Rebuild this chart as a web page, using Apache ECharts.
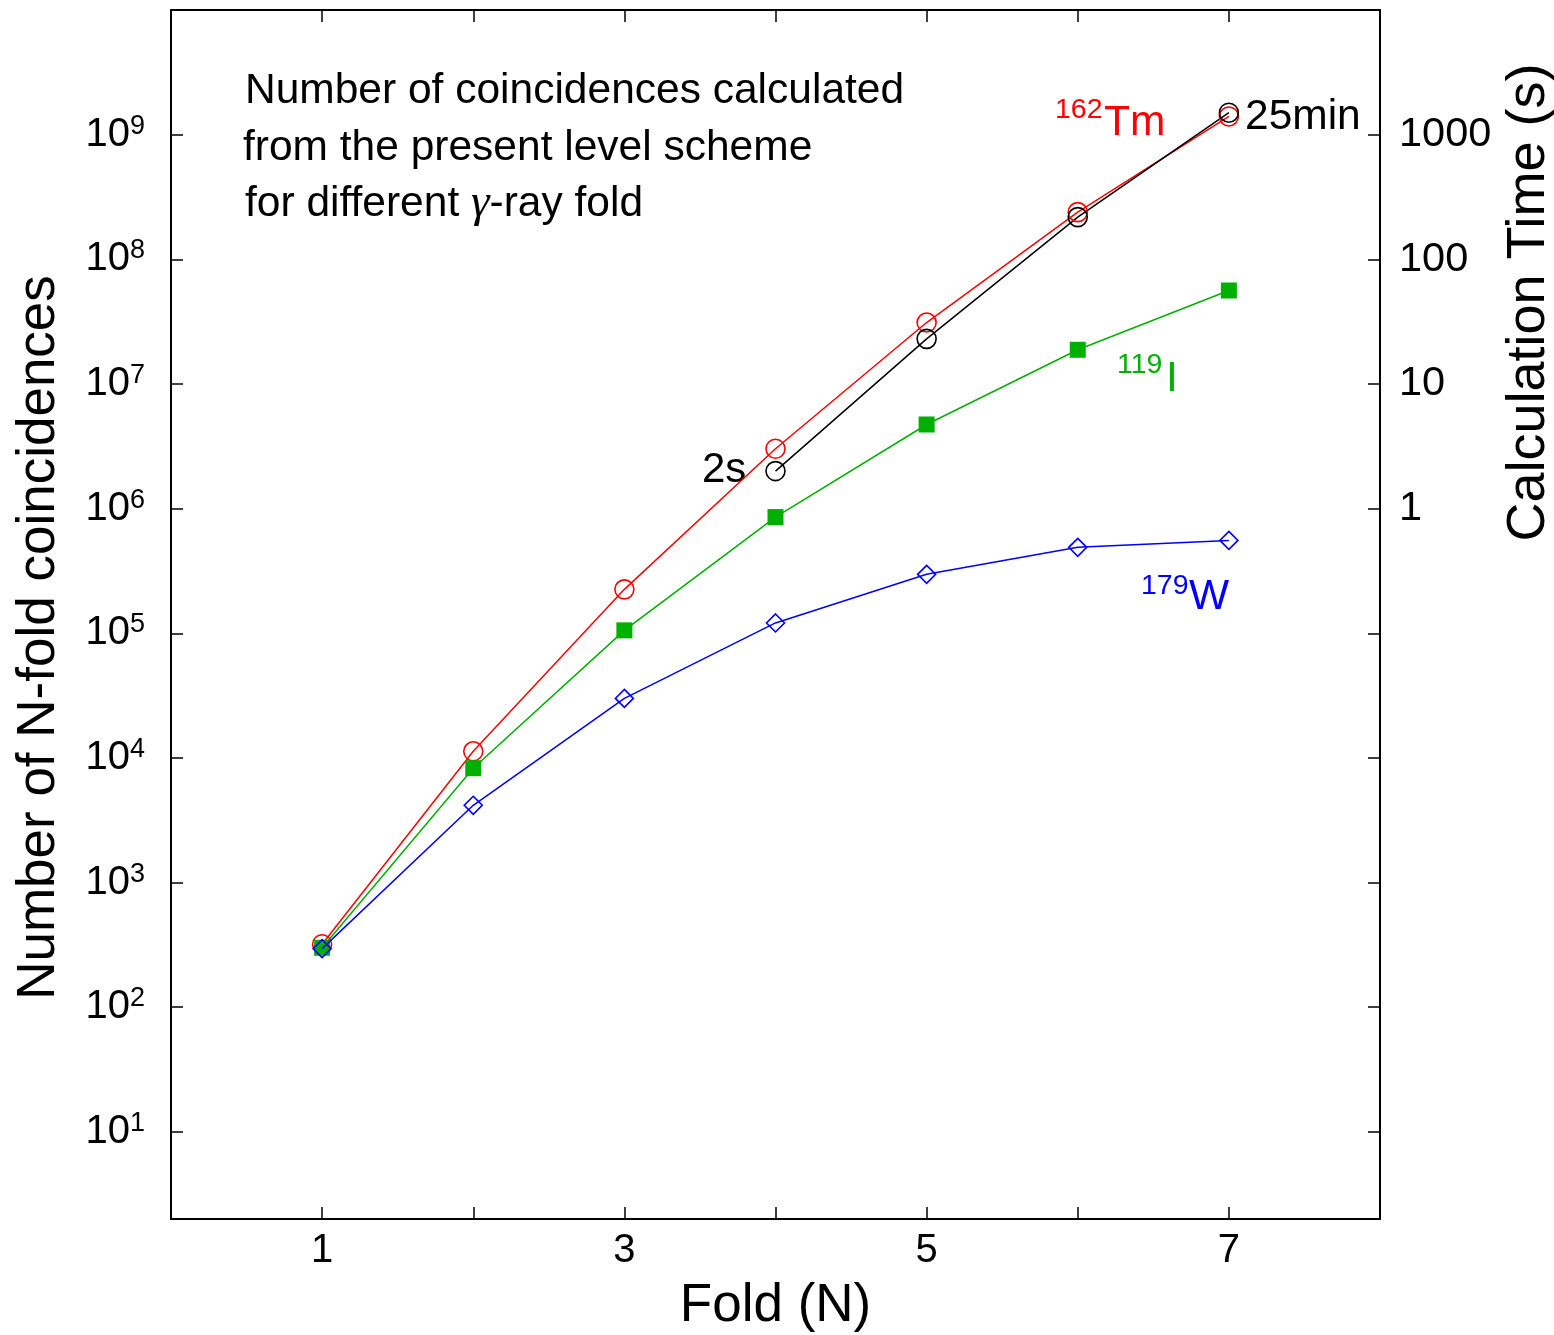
<!DOCTYPE html>
<html>
<head>
<meta charset="utf-8">
<script src="https://cdn.jsdelivr.net/npm/echarts@6/dist/echarts.min.js"></script>
<style>
html,body{margin:0;padding:0;background:#fff;overflow:hidden;}
#chart{width:1554px;height:1335px;}
</style>
</head>
<body>
<div id="chart"></div>
<script>
// ---- data ----
const folds = [1, 2, 3, 4, 5, 6, 7];
const tm162 = [320, 1.13e4, 2.25e5, 3.02e6, 3.11e7, 2.39e8, 1.40e9];
const i119 = [300, 8.27e3, 1.055e5, 8.55e5, 4.73e6, 1.88e7, 5.62e7];
const w179 = [295, 4.17e3, 3.0e4, 1.21e5, 2.97e5, 4.89e5, 5.56e5];
const timeFolds = [4, 5, 6, 7];
const calcTime = [2, 23, 218, 1500]; // seconds
const xTickLabels = [1, 3, 5, 7];
const rightTickLabels = [1, 10, 100, 1000];

const FONT = "'Liberation Sans', Arial, Helvetica, sans-serif";

function pairs(xs, ys) { return xs.map((x, i) => [x, ys[i]]); }

const chart = echarts.init(document.getElementById('chart'), null, {renderer: 'canvas'});

const axisLine = {show: true, onZero: false, lineStyle: {color: '#000', width: 2}};
const tickIn = {show: true, inside: true, length: 12, lineStyle: {color: '#000', width: 1.5}};

const option = {
  backgroundColor: '#fff',
  animation: false,
  grid: {left: 171, right: 174, top: 10, bottom: 116, containLabel: false, outerBoundsMode: 'none'},
  xAxis: [
    {
      type: 'value', min: 0, max: 8, interval: 1, position: 'bottom',
      axisLine: axisLine, axisTick: tickIn, splitLine: {show: false},
      axisLabel: {
        margin: 12, color: '#000', fontFamily: FONT, fontSize: 40,
        formatter: v => xTickLabels.indexOf(v) >= 0 ? String(v) : ''
      },
      name: 'Fold (N)', nameLocation: 'middle', nameGap: 61,
      nameTextStyle: {fontFamily: FONT, fontSize: 53, color: '#000'}
    },
    {
      type: 'value', min: 0, max: 8, interval: 1, position: 'top',
      axisLine: axisLine, axisTick: tickIn, splitLine: {show: false},
      axisLabel: {show: false}
    }
  ],
  yAxis: [
    {
      type: 'log', logBase: 10, min: 2, max: 1e10, position: 'left',
      axisLine: axisLine, axisTick: tickIn, splitLine: {show: false}, minorTick: {show: false},
      axisLabel: {
        margin: 26, color: '#000', fontFamily: FONT, showMinLabel: false, showMaxLabel: false,
        formatter: function (v) {
          const e = Math.round(Math.log10(v));
          if (Math.abs(v / Math.pow(10, e) - 1) > 1e-6) return '';
          return '{b|10}{s|' + e + '}';
        },
        rich: {
          b: {fontFamily: FONT, fontSize: 40, lineHeight: 44, color: '#000'},
          s: {fontFamily: FONT, fontSize: 27, lineHeight: 28, verticalAlign: 'top', color: '#000'}
        }
      },
      name: 'Number of N-fold coincidences', nameLocation: 'middle', nameGap: 105, nameRotate: 90,
      nameTextStyle: {fontFamily: FONT, fontSize: 53, color: '#000', padding: [0, 46, 0, 0]}
    },
    {
      type: 'log', logBase: 10, min: 2e-6, max: 1e4, position: 'right',
      axisLine: axisLine, axisTick: tickIn, splitLine: {show: false}, minorTick: {show: false},
      axisLabel: {
        margin: 19, color: '#000', fontFamily: FONT, fontSize: 41.5, showMinLabel: false, showMaxLabel: false,
        formatter: function (v) {
          for (const t of rightTickLabels) { if (Math.abs(v / t - 1) < 1e-6) return String(t); }
          return '';
        }
      },
      name: 'Calculation Time (s)', nameLocation: 'middle', nameGap: 105, nameRotate: 90,
      nameTextStyle: {fontFamily: FONT, fontSize: 54, color: '#000', padding: [0, 0, 0, 624]}
    }
  ],
  series: [
    {
      name: '162Tm', type: 'line', xAxisIndex: 0, yAxisIndex: 0,
      data: pairs(folds, tm162), symbol: 'circle', symbolSize: 19, showAllSymbol: true,
      lineStyle: {color: '#ff0000', width: 1.5},
      itemStyle: {color: 'rgba(0,0,0,0)', borderColor: '#ff0000', borderWidth: 1.6},
      emphasis: {disabled: true}, z: 2
    },
    {
      name: 'Calculation time', type: 'line', xAxisIndex: 0, yAxisIndex: 1,
      data: pairs(timeFolds, calcTime), symbol: 'circle', symbolSize: 19, showAllSymbol: true,
      lineStyle: {color: '#000000', width: 1.5},
      itemStyle: {color: 'rgba(0,0,0,0)', borderColor: '#000000', borderWidth: 1.6},
      emphasis: {disabled: true}, z: 2
    },
    {
      name: '119I', type: 'line', xAxisIndex: 0, yAxisIndex: 0,
      data: pairs(folds, i119), symbol: 'rect', symbolSize: 16, showAllSymbol: true,
      lineStyle: {color: '#00b000', width: 1.5},
      itemStyle: {color: '#00b000', borderWidth: 0},
      emphasis: {disabled: true}, z: 3
    },
    {
      name: '179W', type: 'line', xAxisIndex: 0, yAxisIndex: 0,
      data: pairs(folds, w179), symbol: 'diamond', symbolSize: 18, showAllSymbol: true,
      lineStyle: {color: '#0000ff', width: 1.5},
      itemStyle: {color: 'rgba(0,0,0,0)', borderColor: '#0000ff', borderWidth: 1.6},
      emphasis: {disabled: true}, z: 4
    }
  ],
  graphic: [
    {type: 'text', x: 245, y: 91, style: {text: 'Number of coincidences calculated', font: '42.5px ' + FONT, fill: '#000', verticalAlign: 'middle'}},
    {type: 'text', x: 243, y: 148, style: {text: 'from the present level scheme', font: '42.5px ' + FONT, fill: '#000', verticalAlign: 'middle'}},
    {type: 'text', x: 245, y: 204, style: {
      text: '{n|for different }{g|γ}{n|-ray fold}', verticalAlign: 'middle', fill: '#000',
      rich: {
        n: {fontFamily: FONT, fontSize: 42.5, color: '#000'},
        g: {fontFamily: "'Liberation Serif', 'DejaVu Serif', serif", fontStyle: 'italic', fontSize: 47, color: '#000'}
      }
    }},
    // 162Tm
    {type: 'text', x: 1055, y: 110, style: {text: '162', font: '28.5px ' + FONT, fill: '#ff0000', verticalAlign: 'middle'}},
    {type: 'text', x: 1104, y: 123, style: {text: 'Tm', font: '42.5px ' + FONT, fill: '#ff0000', verticalAlign: 'middle'}},
    // 25min
    {type: 'text', x: 1245, y: 117, style: {text: '25min', font: '42.5px ' + FONT, fill: '#000', verticalAlign: 'middle'}},
    // 2s
    {type: 'text', x: 702, y: 470, style: {text: '2s', font: '42px ' + FONT, fill: '#000', verticalAlign: 'middle'}},
    // 119I
    {type: 'text', x: 1117, y: 365, style: {text: '119', font: '28.5px ' + FONT, fill: '#00b000', verticalAlign: 'middle'}},
    {type: 'text', x: 1166, y: 379, style: {text: 'I', font: '42.5px ' + FONT, fill: '#00b000', verticalAlign: 'middle'}},
    // 179W
    {type: 'text', x: 1141, y: 586, style: {text: '179', font: '28.5px ' + FONT, fill: '#0000ff', verticalAlign: 'middle'}},
    {type: 'text', x: 1189, y: 597, style: {text: 'W', font: '42.5px ' + FONT, fill: '#0000ff', verticalAlign: 'middle'}}
  ]
};

chart.setOption(option);
</script>
</body>
</html>
